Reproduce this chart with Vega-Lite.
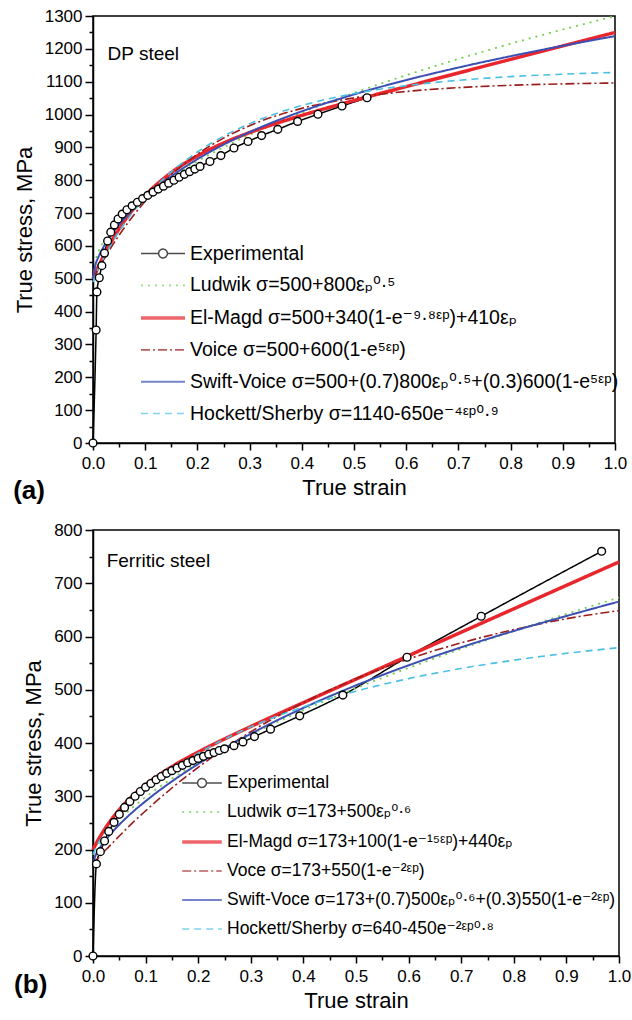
{
  "$schema": "https://vega.github.io/schema/vega-lite/v6.json",
  "background": "white",
  "padding": {"left": 12, "top": 6, "right": 0, "bottom": 0},
  "spacing": 15,
  "config": {
    "font": "Liberation Sans",
    "view": {"stroke": "black", "strokeWidth": 1.5},
    "axis": {
      "domainColor": "black", "domainWidth": 1.5, "tickColor": "black", "tickWidth": 1.5,
      "labelColor": "black", "titleColor": "black", "labelFont": "Liberation Sans", "titleFont": "Liberation Sans",
      "labelFontSize": 17, "titleFontSize": 22, "titleFontWeight": "normal", "grid": false,
      "labelFlush": false, "labelOverlap": false
    },
    "legend": {
      "labelFont": "Liberation Sans, DejaVu Sans", "labelColor": "black", "labelLimit": 700,
      "symbolSize": 484, "padding": 0, "orient": "none"
    }
  },
  "datasets": {
    "a": [
      {"s":"Experimental","x":0,"y":0},{"s":"Experimental","x":0.006,"y":344},{"s":"Experimental","x":0.0075,"y":460},{"s":"Experimental","x":0.012,"y":503},{"s":"Experimental","x":0.017,"y":540},{"s":"Experimental","x":0.022,"y":578},{"s":"Experimental","x":0.028,"y":615},{"s":"Experimental","x":0.034,"y":642},{"s":"Experimental","x":0.041,"y":664},{"s":"Experimental","x":0.048,"y":682},{"s":"Experimental","x":0.056,"y":697},{"s":"Experimental","x":0.065,"y":710},{"s":"Experimental","x":0.075,"y":722},{"s":"Experimental","x":0.085,"y":733},{"s":"Experimental","x":0.095,"y":744},{"s":"Experimental","x":0.105,"y":754},{"s":"Experimental","x":0.115,"y":764},{"s":"Experimental","x":0.125,"y":773},{"s":"Experimental","x":0.135,"y":782},{"s":"Experimental","x":0.145,"y":791},{"s":"Experimental","x":0.155,"y":800},{"s":"Experimental","x":0.165,"y":809},{"s":"Experimental","x":0.175,"y":818},{"s":"Experimental","x":0.185,"y":826},{"s":"Experimental","x":0.195,"y":834},{"s":"Experimental","x":0.205,"y":842},{"s":"Experimental","x":0.224,"y":857},{"s":"Experimental","x":0.245,"y":875},{"s":"Experimental","x":0.27,"y":898},{"s":"Experimental","x":0.297,"y":918},{"s":"Experimental","x":0.323,"y":936},{"s":"Experimental","x":0.354,"y":955},{"s":"Experimental","x":0.392,"y":979},{"s":"Experimental","x":0.431,"y":1001},{"s":"Experimental","x":0.477,"y":1026},{"s":"Experimental","x":0.525,"y":1051},
      {"s":"Ludwik","x":0,"y":500},{"s":"Ludwik","x":0.005,"y":556.6},{"s":"Ludwik","x":0.01,"y":580},{"s":"Ludwik","x":0.02,"y":613.1},{"s":"Ludwik","x":0.03,"y":638.6},{"s":"Ludwik","x":0.05,"y":678.9},{"s":"Ludwik","x":0.075,"y":719.1},{"s":"Ludwik","x":0.1,"y":753},{"s":"Ludwik","x":0.15,"y":809.8},{"s":"Ludwik","x":0.2,"y":857.8},{"s":"Ludwik","x":0.25,"y":900},{"s":"Ludwik","x":0.3,"y":938.2},{"s":"Ludwik","x":0.4,"y":1006},{"s":"Ludwik","x":0.5,"y":1065.7},{"s":"Ludwik","x":0.6,"y":1119.7},{"s":"Ludwik","x":0.7,"y":1169.3},{"s":"Ludwik","x":0.8,"y":1215.5},{"s":"Ludwik","x":0.9,"y":1258.9},{"s":"Ludwik","x":1,"y":1300},
      {"s":"El-Magd","x":0,"y":500},{"s":"El-Magd","x":0.005,"y":518.3},{"s":"El-Magd","x":0.01,"y":535.9},{"s":"El-Magd","x":0.02,"y":568.7},{"s":"El-Magd","x":0.03,"y":598.9},{"s":"El-Magd","x":0.05,"y":652.2},{"s":"El-Magd","x":0.075,"y":707.7},{"s":"El-Magd","x":0.1,"y":753.4},{"s":"El-Magd","x":0.15,"y":823.3},{"s":"El-Magd","x":0.2,"y":874.1},{"s":"El-Magd","x":0.25,"y":913.2},{"s":"El-Magd","x":0.3,"y":945},{"s":"El-Magd","x":0.4,"y":997.3},{"s":"El-Magd","x":0.5,"y":1042.5},{"s":"El-Magd","x":0.6,"y":1085},{"s":"El-Magd","x":0.7,"y":1126.6},{"s":"El-Magd","x":0.8,"y":1167.9},{"s":"El-Magd","x":0.9,"y":1209},{"s":"El-Magd","x":1,"y":1250},
      {"s":"Voice","x":0,"y":500},{"s":"Voice","x":0.005,"y":514.8},{"s":"Voice","x":0.01,"y":529.3},{"s":"Voice","x":0.02,"y":557.1},{"s":"Voice","x":0.03,"y":583.6},{"s":"Voice","x":0.05,"y":632.7},{"s":"Voice","x":0.075,"y":687.6},{"s":"Voice","x":0.1,"y":736.1},{"s":"Voice","x":0.15,"y":816.6},{"s":"Voice","x":0.2,"y":879.3},{"s":"Voice","x":0.25,"y":928.1},{"s":"Voice","x":0.3,"y":966.1},{"s":"Voice","x":0.4,"y":1018.8},{"s":"Voice","x":0.5,"y":1050.7},{"s":"Voice","x":0.6,"y":1070.1},{"s":"Voice","x":0.7,"y":1081.9},{"s":"Voice","x":0.8,"y":1089},{"s":"Voice","x":0.9,"y":1093.3},{"s":"Voice","x":1,"y":1096},
      {"s":"Swift-Voice","x":0,"y":500},{"s":"Swift-Voice","x":0.005,"y":544},{"s":"Swift-Voice","x":0.01,"y":564.8},{"s":"Swift-Voice","x":0.02,"y":596.3},{"s":"Swift-Voice","x":0.03,"y":622.1},{"s":"Swift-Voice","x":0.05,"y":665},{"s":"Swift-Voice","x":0.075,"y":709.7},{"s":"Swift-Voice","x":0.1,"y":747.9},{"s":"Swift-Voice","x":0.15,"y":811.9},{"s":"Swift-Voice","x":0.2,"y":864.2},{"s":"Swift-Voice","x":0.25,"y":908.4},{"s":"Swift-Voice","x":0.3,"y":946.5},{"s":"Swift-Voice","x":0.4,"y":1009.8},{"s":"Swift-Voice","x":0.5,"y":1061.2},{"s":"Swift-Voice","x":0.6,"y":1104.8},{"s":"Swift-Voice","x":0.7,"y":1143.1},{"s":"Swift-Voice","x":0.8,"y":1177.6},{"s":"Swift-Voice","x":0.9,"y":1209.3},{"s":"Swift-Voice","x":1,"y":1238.8},
      {"s":"Hockett/Sherby","x":0,"y":490},{"s":"Hockett/Sherby","x":0.005,"y":511.7},{"s":"Hockett/Sherby","x":0.01,"y":529.9},{"s":"Hockett/Sherby","x":0.02,"y":562.5},{"s":"Hockett/Sherby","x":0.03,"y":591.9},{"s":"Hockett/Sherby","x":0.05,"y":643.8},{"s":"Hockett/Sherby","x":0.075,"y":699.4},{"s":"Hockett/Sherby","x":0.1,"y":747.1},{"s":"Hockett/Sherby","x":0.15,"y":825.3},{"s":"Hockett/Sherby","x":0.2,"y":886},{"s":"Hockett/Sherby","x":0.25,"y":933.9},{"s":"Hockett/Sherby","x":0.3,"y":972.1},{"s":"Hockett/Sherby","x":0.4,"y":1027.4},{"s":"Hockett/Sherby","x":0.5,"y":1063.8},{"s":"Hockett/Sherby","x":0.6,"y":1088},{"s":"Hockett/Sherby","x":0.7,"y":1104.3},{"s":"Hockett/Sherby","x":0.8,"y":1115.4},{"s":"Hockett/Sherby","x":0.9,"y":1122.9},{"s":"Hockett/Sherby","x":1,"y":1128.1}
    ],
    "b": [
      {"s":"Experimental","x":0,"y":0},{"s":"Experimental","x":0.0065,"y":173},{"s":"Experimental","x":0.014,"y":196},{"s":"Experimental","x":0.022,"y":216},{"s":"Experimental","x":0.03,"y":234},{"s":"Experimental","x":0.04,"y":251},{"s":"Experimental","x":0.05,"y":266},{"s":"Experimental","x":0.06,"y":279},{"s":"Experimental","x":0.07,"y":290},{"s":"Experimental","x":0.08,"y":300},{"s":"Experimental","x":0.09,"y":309},{"s":"Experimental","x":0.1,"y":317},{"s":"Experimental","x":0.11,"y":324},{"s":"Experimental","x":0.12,"y":331},{"s":"Experimental","x":0.13,"y":337},{"s":"Experimental","x":0.14,"y":343},{"s":"Experimental","x":0.15,"y":348},{"s":"Experimental","x":0.16,"y":353},{"s":"Experimental","x":0.17,"y":358},{"s":"Experimental","x":0.18,"y":363},{"s":"Experimental","x":0.19,"y":367},{"s":"Experimental","x":0.2,"y":371},{"s":"Experimental","x":0.21,"y":375},{"s":"Experimental","x":0.22,"y":379},{"s":"Experimental","x":0.23,"y":382},{"s":"Experimental","x":0.24,"y":386},{"s":"Experimental","x":0.25,"y":389},{"s":"Experimental","x":0.268,"y":395},{"s":"Experimental","x":0.285,"y":402},{"s":"Experimental","x":0.307,"y":412},{"s":"Experimental","x":0.3375,"y":426},{"s":"Experimental","x":0.393,"y":451},{"s":"Experimental","x":0.475,"y":490},{"s":"Experimental","x":0.597,"y":561},{"s":"Experimental","x":0.738,"y":638},{"s":"Experimental","x":0.967,"y":760},
      {"s":"Ludwik","x":0,"y":173},{"s":"Ludwik","x":0.005,"y":193.8},{"s":"Ludwik","x":0.01,"y":204.5},{"s":"Ludwik","x":0.02,"y":220.8},{"s":"Ludwik","x":0.03,"y":234},{"s":"Ludwik","x":0.05,"y":255.9},{"s":"Ludwik","x":0.075,"y":278.7},{"s":"Ludwik","x":0.1,"y":298.6},{"s":"Ludwik","x":0.15,"y":333.2},{"s":"Ludwik","x":0.2,"y":363.4},{"s":"Ludwik","x":0.25,"y":390.6},{"s":"Ludwik","x":0.3,"y":415.8},{"s":"Ludwik","x":0.4,"y":461.6},{"s":"Ludwik","x":0.5,"y":502.9},{"s":"Ludwik","x":0.6,"y":541},{"s":"Ludwik","x":0.7,"y":576.7},{"s":"Ludwik","x":0.8,"y":610.3},{"s":"Ludwik","x":0.9,"y":642.4},{"s":"Ludwik","x":1,"y":673},
      {"s":"El-Magd","x":0,"y":200},{"s":"El-Magd","x":0.005,"y":209.4},{"s":"El-Magd","x":0.01,"y":218.3},{"s":"El-Magd","x":0.02,"y":234.7},{"s":"El-Magd","x":0.03,"y":249.4},{"s":"El-Magd","x":0.05,"y":274.8},{"s":"El-Magd","x":0.075,"y":300.5},{"s":"El-Magd","x":0.1,"y":321.7},{"s":"El-Magd","x":0.15,"y":355.5},{"s":"El-Magd","x":0.2,"y":383},{"s":"El-Magd","x":0.25,"y":407.6},{"s":"El-Magd","x":0.3,"y":430.9},{"s":"El-Magd","x":0.4,"y":475.8},{"s":"El-Magd","x":0.5,"y":519.9},{"s":"El-Magd","x":0.6,"y":564},{"s":"El-Magd","x":0.7,"y":608},{"s":"El-Magd","x":0.8,"y":652},{"s":"El-Magd","x":0.9,"y":696},{"s":"El-Magd","x":1,"y":740},
      {"s":"Voce","x":0,"y":173},{"s":"Voce","x":0.005,"y":178.5},{"s":"Voce","x":0.01,"y":183.9},{"s":"Voce","x":0.02,"y":194.8},{"s":"Voce","x":0.03,"y":205},{"s":"Voce","x":0.05,"y":225.3},{"s":"Voce","x":0.075,"y":250},{"s":"Voce","x":0.1,"y":272.7},{"s":"Voce","x":0.15,"y":315.5},{"s":"Voce","x":0.2,"y":354.3},{"s":"Voce","x":0.25,"y":389.4},{"s":"Voce","x":0.3,"y":421.2},{"s":"Voce","x":0.4,"y":475.9},{"s":"Voce","x":0.5,"y":520.7},{"s":"Voce","x":0.6,"y":557.8},{"s":"Voce","x":0.7,"y":588},{"s":"Voce","x":0.8,"y":612.9},{"s":"Voce","x":0.9,"y":633.4},{"s":"Voce","x":1,"y":648.6},
      {"s":"Swift-Voce","x":0,"y":173},{"s":"Swift-Voce","x":0.005,"y":189.2},{"s":"Swift-Voce","x":0.01,"y":198.4},{"s":"Swift-Voce","x":0.02,"y":213},{"s":"Swift-Voce","x":0.03,"y":225.3},{"s":"Swift-Voce","x":0.05,"y":246.7},{"s":"Swift-Voce","x":0.075,"y":270.1},{"s":"Swift-Voce","x":0.1,"y":290.8},{"s":"Swift-Voce","x":0.15,"y":327.9},{"s":"Swift-Voce","x":0.2,"y":360.6},{"s":"Swift-Voce","x":0.25,"y":390.3},{"s":"Swift-Voce","x":0.3,"y":417.4},{"s":"Swift-Voce","x":0.4,"y":465.9},{"s":"Swift-Voce","x":0.5,"y":508.2},{"s":"Swift-Voce","x":0.6,"y":545.9},{"s":"Swift-Voce","x":0.7,"y":579.7},{"s":"Swift-Voce","x":0.8,"y":610.4},{"s":"Swift-Voce","x":0.9,"y":638.5},{"s":"Swift-Voce","x":1,"y":665.7},
      {"s":"Hockett/Sherby","x":0,"y":190},{"s":"Hockett/Sherby","x":0.005,"y":202.8},{"s":"Hockett/Sherby","x":0.01,"y":212},{"s":"Hockett/Sherby","x":0.02,"y":227.7},{"s":"Hockett/Sherby","x":0.03,"y":241.3},{"s":"Hockett/Sherby","x":0.05,"y":264.9},{"s":"Hockett/Sherby","x":0.075,"y":290.2},{"s":"Hockett/Sherby","x":0.1,"y":312.3},{"s":"Hockett/Sherby","x":0.15,"y":349.7},{"s":"Hockett/Sherby","x":0.2,"y":380.8},{"s":"Hockett/Sherby","x":0.25,"y":407.3},{"s":"Hockett/Sherby","x":0.3,"y":430.3},{"s":"Hockett/Sherby","x":0.4,"y":467.9},{"s":"Hockett/Sherby","x":0.5,"y":497.3},{"s":"Hockett/Sherby","x":0.6,"y":520.9},{"s":"Hockett/Sherby","x":0.7,"y":540},{"s":"Hockett/Sherby","x":0.8,"y":555.5},{"s":"Hockett/Sherby","x":0.9,"y":568.4},{"s":"Hockett/Sherby","x":1,"y":579.1}
    ]
  },
  "vconcat": [
    {
      "width": 522,
      "height": 427,
      "layer": [
        {
          "data": {"name": "a"},
          "mark": {"type": "line", "interpolate": "monotone"},
          "encoding": {
            "x": {"field": "x", "type": "quantitative", "title": "True strain", "scale": {"domain": [0, 1], "nice": false},
                  "axis": {"values": [0,0.05,0.1,0.15,0.2,0.25,0.3,0.35,0.4,0.45,0.5,0.55,0.6,0.65,0.7,0.75,0.8,0.85,0.9,0.95,1], "format": ".1f",
                           "labelExpr": "round(datum.value*20) % 2 == 0 ? datum.label : ''",
                           "tickSize": {"condition": {"test": "round(datum.value*20) % 2 == 0", "value": 7}, "value": 4},
                           "labelPadding": 5, "titlePadding": 6}},
            "y": {"field": "y", "type": "quantitative", "title": "True stress, MPa", "scale": {"domain": [0, 1300], "nice": false},
                  "axis": {"values": [0,50,100,150,200,250,300,350,400,450,500,550,600,650,700,750,800,850,900,950,1000,1050,1100,1150,1200,1250,1300], "format": "d",
                           "labelExpr": "datum.value % 100 == 0 ? datum.label : ''",
                           "tickSize": {"condition": {"test": "datum.value % 100 == 0", "value": 8}, "value": 4},
                           "labelPadding": 3, "titlePadding": 8}},
            "color": {"field": "s", "type": "nominal",
                      "scale": {"domain": ["Experimental","Ludwik","El-Magd","Voice","Swift-Voice","Hockett/Sherby"], "range": ["black","#72d04c","#e8262b","#9c1c1c","#3d4fb3","#4ac0e3"]},
                      "legend": {"title": null, "legendX": 57, "legendY": 225.5, "rowPadding": 9.8, "labelFontSize": 19.5, "labelOffset": 14,
                                 "labelExpr": "datum.label == 'Ludwik' ? 'Ludwik σ=500+800εₚ⁰·⁵' : datum.label == 'El-Magd' ? 'El-Magd σ=500+340(1-e⁻⁹·⁸ᵋᵖ)+410εₚ' : datum.label == 'Voice' ? 'Voice σ=500+600(1-e⁵ᵋᵖ)' : datum.label == 'Swift-Voice' ? 'Swift-Voice σ=500+(0.7)800εₚ⁰·⁵+(0.3)600(1-e⁵ᵋᵖ)' : datum.label == 'Hockett/Sherby' ? 'Hockett/Sherby σ=1140-650e⁻⁴ᵋᵖ⁰·⁹' : datum.label"}},
            "strokeDash": {"field": "s", "type": "nominal",
                      "scale": {"domain": ["Experimental","Ludwik","El-Magd","Voice","Swift-Voice","Hockett/Sherby"], "range": [[1,0],[2,5],[1,0],[9,3,2,3],[1,0],[7,5]]},
                      "legend": {"title": null, "legendX": 57, "legendY": 225.5, "rowPadding": 9.8, "labelFontSize": 19.5, "labelOffset": 14,
                                 "labelExpr": "datum.label == 'Ludwik' ? 'Ludwik σ=500+800εₚ⁰·⁵' : datum.label == 'El-Magd' ? 'El-Magd σ=500+340(1-e⁻⁹·⁸ᵋᵖ)+410εₚ' : datum.label == 'Voice' ? 'Voice σ=500+600(1-e⁵ᵋᵖ)' : datum.label == 'Swift-Voice' ? 'Swift-Voice σ=500+(0.7)800εₚ⁰·⁵+(0.3)600(1-e⁵ᵋᵖ)' : datum.label == 'Hockett/Sherby' ? 'Hockett/Sherby σ=1140-650e⁻⁴ᵋᵖ⁰·⁹' : datum.label"}},
            "strokeWidth": {"field": "s", "type": "nominal",
                      "scale": {"type": "ordinal", "domain": ["Experimental","Ludwik","El-Magd","Voice","Swift-Voice","Hockett/Sherby"], "range": [1.5,1.8,3.5,1.6,2,1.6]},
                      "legend": {"title": null, "legendX": 57, "legendY": 225.5, "rowPadding": 9.8, "labelFontSize": 19.5, "labelOffset": 14,
                                 "labelExpr": "datum.label == 'Ludwik' ? 'Ludwik σ=500+800εₚ⁰·⁵' : datum.label == 'El-Magd' ? 'El-Magd σ=500+340(1-e⁻⁹·⁸ᵋᵖ)+410εₚ' : datum.label == 'Voice' ? 'Voice σ=500+600(1-e⁵ᵋᵖ)' : datum.label == 'Swift-Voice' ? 'Swift-Voice σ=500+(0.7)800εₚ⁰·⁵+(0.3)600(1-e⁵ᵋᵖ)' : datum.label == 'Hockett/Sherby' ? 'Hockett/Sherby σ=1140-650e⁻⁴ᵋᵖ⁰·⁹' : datum.label"}}
          }
        },
        {
          "data": {"name": "a"},
          "transform": [{"filter": "datum.s == 'Experimental'"}],
          "mark": {"type": "point", "shape": "circle", "size": 60, "filled": true, "fill": "white", "stroke": "black", "strokeWidth": 1.4, "opacity": 1},
          "encoding": {
            "x": {"field": "x", "type": "quantitative", "title": "True strain", "scale": {"domain": [0, 1], "nice": false},
                  "axis": {"values": [0,0.05,0.1,0.15,0.2,0.25,0.3,0.35,0.4,0.45,0.5,0.55,0.6,0.65,0.7,0.75,0.8,0.85,0.9,0.95,1], "format": ".1f",
                           "labelExpr": "round(datum.value*20) % 2 == 0 ? datum.label : ''",
                           "tickSize": {"condition": {"test": "round(datum.value*20) % 2 == 0", "value": 7}, "value": 4},
                           "labelPadding": 5, "titlePadding": 6}},
            "y": {"field": "y", "type": "quantitative", "title": "True stress, MPa", "scale": {"domain": [0, 1300], "nice": false},
                  "axis": {"values": [0,50,100,150,200,250,300,350,400,450,500,550,600,650,700,750,800,850,900,950,1000,1050,1100,1150,1200,1250,1300], "format": "d",
                           "labelExpr": "datum.value % 100 == 0 ? datum.label : ''",
                           "tickSize": {"condition": {"test": "datum.value % 100 == 0", "value": 8}, "value": 4},
                           "labelPadding": 3, "titlePadding": 8}}
          }
        },
        {
          "data": {"name": "a"},
          "transform": [{"filter": "false"}],
          "mark": {"type": "point", "filled": false},
          "encoding": {
            "shape": {"field": "s", "type": "nominal",
                      "scale": {"domain": ["Experimental","Ludwik","El-Magd","Voice","Swift-Voice","Hockett/Sherby"],
                                "range": ["M-2,0H-0.4M0.4,0H2M0.4,0A0.4,0.4,0,1,1,-0.4,0A0.4,0.4,0,1,1,0.4,0","M-2,0H2","M-2,0H2","M-2,0H2","M-2,0H2","M-2,0H2"]},
                      "legend": {"title": null, "legendX": 57, "legendY": 225.5, "rowPadding": 9.8, "labelFontSize": 19.5, "labelOffset": 14,
                                 "labelExpr": "datum.label == 'Ludwik' ? 'Ludwik σ=500+800εₚ⁰·⁵' : datum.label == 'El-Magd' ? 'El-Magd σ=500+340(1-e⁻⁹·⁸ᵋᵖ)+410εₚ' : datum.label == 'Voice' ? 'Voice σ=500+600(1-e⁵ᵋᵖ)' : datum.label == 'Swift-Voice' ? 'Swift-Voice σ=500+(0.7)800εₚ⁰·⁵+(0.3)600(1-e⁵ᵋᵖ)' : datum.label == 'Hockett/Sherby' ? 'Hockett/Sherby σ=1140-650e⁻⁴ᵋᵖ⁰·⁹' : datum.label"}}
          }
        },
        {
          "data": {"values": [{"t": "DP steel"}]},
          "mark": {"type": "text", "align": "left", "baseline": "alphabetic", "font": "Liberation Sans", "fontSize": 19, "fill": "black"},
          "encoding": {
            "x": {"datum": 0.028, "type": "quantitative", "title": "True strain", "scale": {"domain": [0, 1], "nice": false},
                  "axis": {"values": [0,0.05,0.1,0.15,0.2,0.25,0.3,0.35,0.4,0.45,0.5,0.55,0.6,0.65,0.7,0.75,0.8,0.85,0.9,0.95,1], "format": ".1f",
                           "labelExpr": "round(datum.value*20) % 2 == 0 ? datum.label : ''",
                           "tickSize": {"condition": {"test": "round(datum.value*20) % 2 == 0", "value": 7}, "value": 4},
                           "labelPadding": 5, "titlePadding": 6}},
            "y": {"datum": 1167, "type": "quantitative", "title": "True stress, MPa", "scale": {"domain": [0, 1300], "nice": false},
                  "axis": {"values": [0,50,100,150,200,250,300,350,400,450,500,550,600,650,700,750,800,850,900,950,1000,1050,1100,1150,1200,1250,1300], "format": "d",
                           "labelExpr": "datum.value % 100 == 0 ? datum.label : ''",
                           "tickSize": {"condition": {"test": "datum.value % 100 == 0", "value": 8}, "value": 4},
                           "labelPadding": 3, "titlePadding": 8}},
            "text": {"field": "t", "type": "nominal"}
          }
        },
        {
          "data": {"values": [{"t": "(a)"}]},
          "mark": {"type": "text", "align": "left", "baseline": "middle", "font": "Liberation Sans", "fontSize": 26, "fontWeight": "bold", "fill": "black"},
          "encoding": {
            "x": {"datum": -0.153, "type": "quantitative", "title": "True strain", "scale": {"domain": [0, 1], "nice": false},
                  "axis": {"values": [0,0.05,0.1,0.15,0.2,0.25,0.3,0.35,0.4,0.45,0.5,0.55,0.6,0.65,0.7,0.75,0.8,0.85,0.9,0.95,1], "format": ".1f",
                           "labelExpr": "round(datum.value*20) % 2 == 0 ? datum.label : ''",
                           "tickSize": {"condition": {"test": "round(datum.value*20) % 2 == 0", "value": 7}, "value": 4},
                           "labelPadding": 5, "titlePadding": 6}},
            "y": {"datum": -146, "type": "quantitative", "title": "True stress, MPa", "scale": {"domain": [0, 1300], "nice": false},
                  "axis": {"values": [0,50,100,150,200,250,300,350,400,450,500,550,600,650,700,750,800,850,900,950,1000,1050,1100,1150,1200,1250,1300], "format": "d",
                           "labelExpr": "datum.value % 100 == 0 ? datum.label : ''",
                           "tickSize": {"condition": {"test": "datum.value % 100 == 0", "value": 8}, "value": 4},
                           "labelPadding": 3, "titlePadding": 8}},
            "text": {"field": "t", "type": "nominal"}
          }
        }
      ]
    },
    {
      "width": 526,
      "height": 426,
      "layer": [
        {
          "data": {"name": "b"},
          "mark": {"type": "line", "interpolate": "monotone"},
          "encoding": {
            "x": {"field": "x", "type": "quantitative", "title": "True strain", "scale": {"domain": [0, 1], "nice": false},
                  "axis": {"values": [0,0.05,0.1,0.15,0.2,0.25,0.3,0.35,0.4,0.45,0.5,0.55,0.6,0.65,0.7,0.75,0.8,0.85,0.9,0.95,1], "format": ".1f",
                           "labelExpr": "round(datum.value*20) % 2 == 0 ? datum.label : ''",
                           "tickSize": {"condition": {"test": "round(datum.value*20) % 2 == 0", "value": 7}, "value": 4},
                           "labelPadding": 5, "titlePadding": 6}},
            "y": {"field": "y", "type": "quantitative", "title": "True stress, MPa", "scale": {"domain": [0, 800], "nice": false},
                  "axis": {"values": [0,50,100,150,200,250,300,350,400,450,500,550,600,650,700,750,800], "format": "d",
                           "labelExpr": "datum.value % 100 == 0 ? datum.label : ''",
                           "tickSize": {"condition": {"test": "datum.value % 100 == 0", "value": 8}, "value": 4},
                           "labelPadding": 3, "titlePadding": 8}},
            "color": {"field": "s", "type": "nominal",
                      "scale": {"domain": ["Experimental","Ludwik","El-Magd","Voce","Swift-Voce","Hockett/Sherby"], "range": ["black","#72d04c","#e8262b","#9c1c1c","#3d4fb3","#4ac0e3"]},
                      "legend": {"title": null, "legendX": 96, "legendY": 241, "rowPadding": 8, "labelFontSize": 17.5, "labelOffset": 12,
                                 "labelExpr": "datum.label == 'Ludwik' ? 'Ludwik σ=173+500εₚ⁰·⁶' : datum.label == 'El-Magd' ? 'El-Magd σ=173+100(1-e⁻¹⁵ᵋᵖ)+440εₚ' : datum.label == 'Voce' ? 'Voce σ=173+550(1-e⁻²ᵋᵖ)' : datum.label == 'Swift-Voce' ? 'Swift-Voce σ=173+(0.7)500εₚ⁰·⁶+(0.3)550(1-e⁻²ᵋᵖ)' : datum.label == 'Hockett/Sherby' ? 'Hockett/Sherby σ=640-450e⁻²ᵋᵖ⁰·⁸' : datum.label"}},
            "strokeDash": {"field": "s", "type": "nominal",
                      "scale": {"domain": ["Experimental","Ludwik","El-Magd","Voce","Swift-Voce","Hockett/Sherby"], "range": [[1,0],[2,5],[1,0],[9,3,2,3],[1,0],[7,5]]},
                      "legend": {"title": null, "legendX": 96, "legendY": 241, "rowPadding": 8, "labelFontSize": 17.5, "labelOffset": 12,
                                 "labelExpr": "datum.label == 'Ludwik' ? 'Ludwik σ=173+500εₚ⁰·⁶' : datum.label == 'El-Magd' ? 'El-Magd σ=173+100(1-e⁻¹⁵ᵋᵖ)+440εₚ' : datum.label == 'Voce' ? 'Voce σ=173+550(1-e⁻²ᵋᵖ)' : datum.label == 'Swift-Voce' ? 'Swift-Voce σ=173+(0.7)500εₚ⁰·⁶+(0.3)550(1-e⁻²ᵋᵖ)' : datum.label == 'Hockett/Sherby' ? 'Hockett/Sherby σ=640-450e⁻²ᵋᵖ⁰·⁸' : datum.label"}},
            "strokeWidth": {"field": "s", "type": "nominal",
                      "scale": {"type": "ordinal", "domain": ["Experimental","Ludwik","El-Magd","Voce","Swift-Voce","Hockett/Sherby"], "range": [1.5,1.8,3.5,1.6,2,1.6]},
                      "legend": {"title": null, "legendX": 96, "legendY": 241, "rowPadding": 8, "labelFontSize": 17.5, "labelOffset": 12,
                                 "labelExpr": "datum.label == 'Ludwik' ? 'Ludwik σ=173+500εₚ⁰·⁶' : datum.label == 'El-Magd' ? 'El-Magd σ=173+100(1-e⁻¹⁵ᵋᵖ)+440εₚ' : datum.label == 'Voce' ? 'Voce σ=173+550(1-e⁻²ᵋᵖ)' : datum.label == 'Swift-Voce' ? 'Swift-Voce σ=173+(0.7)500εₚ⁰·⁶+(0.3)550(1-e⁻²ᵋᵖ)' : datum.label == 'Hockett/Sherby' ? 'Hockett/Sherby σ=640-450e⁻²ᵋᵖ⁰·⁸' : datum.label"}}
          }
        },
        {
          "data": {"name": "b"},
          "transform": [{"filter": "datum.s == 'Experimental'"}],
          "mark": {"type": "point", "shape": "circle", "size": 60, "filled": true, "fill": "white", "stroke": "black", "strokeWidth": 1.4, "opacity": 1},
          "encoding": {
            "x": {"field": "x", "type": "quantitative", "title": "True strain", "scale": {"domain": [0, 1], "nice": false},
                  "axis": {"values": [0,0.05,0.1,0.15,0.2,0.25,0.3,0.35,0.4,0.45,0.5,0.55,0.6,0.65,0.7,0.75,0.8,0.85,0.9,0.95,1], "format": ".1f",
                           "labelExpr": "round(datum.value*20) % 2 == 0 ? datum.label : ''",
                           "tickSize": {"condition": {"test": "round(datum.value*20) % 2 == 0", "value": 7}, "value": 4},
                           "labelPadding": 5, "titlePadding": 6}},
            "y": {"field": "y", "type": "quantitative", "title": "True stress, MPa", "scale": {"domain": [0, 800], "nice": false},
                  "axis": {"values": [0,50,100,150,200,250,300,350,400,450,500,550,600,650,700,750,800], "format": "d",
                           "labelExpr": "datum.value % 100 == 0 ? datum.label : ''",
                           "tickSize": {"condition": {"test": "datum.value % 100 == 0", "value": 8}, "value": 4},
                           "labelPadding": 3, "titlePadding": 8}}
          }
        },
        {
          "data": {"name": "b"},
          "transform": [{"filter": "false"}],
          "mark": {"type": "point", "filled": false},
          "encoding": {
            "shape": {"field": "s", "type": "nominal",
                      "scale": {"domain": ["Experimental","Ludwik","El-Magd","Voce","Swift-Voce","Hockett/Sherby"],
                                "range": ["M-1.8,0H-0.4M0.4,0H1.8M0.4,0A0.4,0.4,0,1,1,-0.4,0A0.4,0.4,0,1,1,0.4,0","M-1.8,0H1.8","M-1.8,0H1.8","M-1.8,0H1.8","M-1.8,0H1.8","M-1.8,0H1.8"]},
                      "legend": {"title": null, "legendX": 96, "legendY": 241, "rowPadding": 8, "labelFontSize": 17.5, "labelOffset": 12,
                                 "labelExpr": "datum.label == 'Ludwik' ? 'Ludwik σ=173+500εₚ⁰·⁶' : datum.label == 'El-Magd' ? 'El-Magd σ=173+100(1-e⁻¹⁵ᵋᵖ)+440εₚ' : datum.label == 'Voce' ? 'Voce σ=173+550(1-e⁻²ᵋᵖ)' : datum.label == 'Swift-Voce' ? 'Swift-Voce σ=173+(0.7)500εₚ⁰·⁶+(0.3)550(1-e⁻²ᵋᵖ)' : datum.label == 'Hockett/Sherby' ? 'Hockett/Sherby σ=640-450e⁻²ᵋᵖ⁰·⁸' : datum.label"}}
          }
        },
        {
          "data": {"values": [{"t": "Ferritic steel"}]},
          "mark": {"type": "text", "align": "left", "baseline": "alphabetic", "font": "Liberation Sans", "fontSize": 19, "fill": "black"},
          "encoding": {
            "x": {"datum": 0.026, "type": "quantitative", "title": "True strain", "scale": {"domain": [0, 1], "nice": false},
                  "axis": {"values": [0,0.05,0.1,0.15,0.2,0.25,0.3,0.35,0.4,0.45,0.5,0.55,0.6,0.65,0.7,0.75,0.8,0.85,0.9,0.95,1], "format": ".1f",
                           "labelExpr": "round(datum.value*20) % 2 == 0 ? datum.label : ''",
                           "tickSize": {"condition": {"test": "round(datum.value*20) % 2 == 0", "value": 7}, "value": 4},
                           "labelPadding": 5, "titlePadding": 6}},
            "y": {"datum": 730, "type": "quantitative", "title": "True stress, MPa", "scale": {"domain": [0, 800], "nice": false},
                  "axis": {"values": [0,50,100,150,200,250,300,350,400,450,500,550,600,650,700,750,800], "format": "d",
                           "labelExpr": "datum.value % 100 == 0 ? datum.label : ''",
                           "tickSize": {"condition": {"test": "datum.value % 100 == 0", "value": 8}, "value": 4},
                           "labelPadding": 3, "titlePadding": 8}},
            "text": {"field": "t", "type": "nominal"}
          }
        },
        {
          "data": {"values": [{"t": "(b)"}]},
          "mark": {"type": "text", "align": "left", "baseline": "middle", "font": "Liberation Sans", "fontSize": 26, "fontWeight": "bold", "fill": "black"},
          "encoding": {
            "x": {"datum": -0.15, "type": "quantitative", "title": "True strain", "scale": {"domain": [0, 1], "nice": false},
                  "axis": {"values": [0,0.05,0.1,0.15,0.2,0.25,0.3,0.35,0.4,0.45,0.5,0.55,0.6,0.65,0.7,0.75,0.8,0.85,0.9,0.95,1], "format": ".1f",
                           "labelExpr": "round(datum.value*20) % 2 == 0 ? datum.label : ''",
                           "tickSize": {"condition": {"test": "round(datum.value*20) % 2 == 0", "value": 7}, "value": 4},
                           "labelPadding": 5, "titlePadding": 6}},
            "y": {"datum": -54.5, "type": "quantitative", "title": "True stress, MPa", "scale": {"domain": [0, 800], "nice": false},
                  "axis": {"values": [0,50,100,150,200,250,300,350,400,450,500,550,600,650,700,750,800], "format": "d",
                           "labelExpr": "datum.value % 100 == 0 ? datum.label : ''",
                           "tickSize": {"condition": {"test": "datum.value % 100 == 0", "value": 8}, "value": 4},
                           "labelPadding": 3, "titlePadding": 8}},
            "text": {"field": "t", "type": "nominal"}
          }
        }
      ]
    }
  ],
  "resolve": {
    "scale": {"color": "independent", "strokeDash": "independent", "strokeWidth": "independent", "shape": "independent"},
    "legend": {"color": "independent", "strokeDash": "independent", "strokeWidth": "independent", "shape": "independent"}
  }
}
